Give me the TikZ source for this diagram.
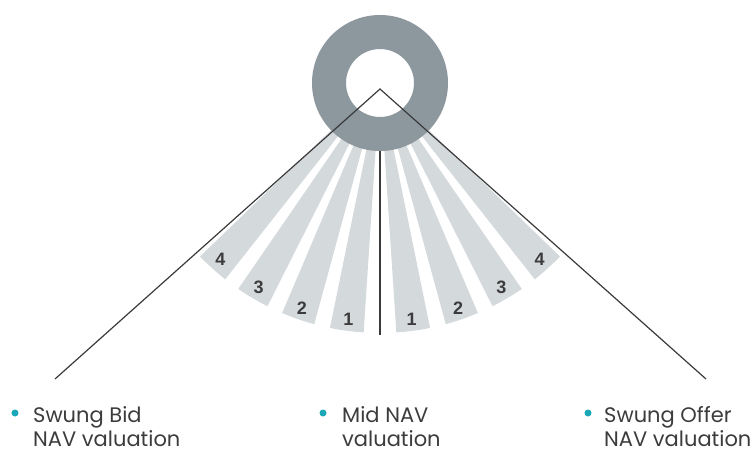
\documentclass[tikz,border=0pt]{standalone}
\usepackage{fontspec}
\setmainfont{Poppins}
\setsansfont{Liberation Sans}
\usetikzlibrary{calc}
\definecolor{ringgray}{HTML}{8C979E}
\definecolor{bladegray}{HTML}{D4D9DC}
\definecolor{linegray}{HTML}{3A3A3A}
\definecolor{textgray}{HTML}{3C3C3C}
\definecolor{dotteal}{HTML}{1AA8B8}

\begin{document}
\begin{tikzpicture}[x=1pt,y=-1pt,
  bladefill/.style={fill=bladegray},
  ringfill/.style={fill=ringgray,even odd rule},
  conn/.style={draw=linegray,line width=1.2pt},
  num/.style={inner sep=0pt,text=textgray,font=\sffamily\fontsize{18}{18}\selectfont\bfseries},
  lbl/.style={inner sep=0pt,anchor=base west,text=textgray,font=\fontsize{21}{25}\selectfont},
  dot/.style={circle,fill=dotteal,inner sep=0pt,minimum size=7pt}]
\useasboundingbox (0,0) rectangle (753,452);

\coordinate (c) at (380,83);
\coordinate (apex) at (380,89);

% fan of numbered blades, left and right of the centre line
\foreach \k/\a in {1/3.75, 2/15.25, 3/26.75, 4/38.25}{
  \pgfmathsetmacro{\la}{90+\a}
  \pgfmathsetmacro{\lb}{90+\a+7.8}
  \pgfmathsetmacro{\ra}{90-\a}
  \pgfmathsetmacro{\rb}{90-\a-7.8}
  \fill[bladefill] ($(c)+(\la:55)$) -- ($(c)+(\la:250)$)
    arc[start angle=\la, end angle=\lb, radius=250] -- ($(c)+(\lb:55)$) -- cycle;
  \fill[bladefill] ($(c)+(\ra:55)$) -- ($(c)+(\ra:250)$)
    arc[start angle=\ra, end angle=\rb, radius=250] -- ($(c)+(\rb:55)$) -- cycle;
  \node[num] (bidn\k) at ($(c)+({(\la+\lb)/2}:238)$) {\k};
  \node[num] (offn\k) at ($(c)+({(\ra+\rb)/2}:238)$) {\k};
}

% ring
\fill[ringfill] (c) circle[radius=68] (c) circle[radius=34];

% connectors
\coordinate (bidend) at (55,379);
\coordinate (offend) at (706,379);
\coordinate (midtop) at (380,151);
\coordinate (midend) at (380,335);
\draw[conn] (bidend) -- (apex) -- (offend);
\draw[conn] (midtop) -- (midend);

% captions
\node[dot] (biddot) at (15,413) {};
\node[lbl] (bid1) at (33,422) {Swung Bid};
\node[lbl] (bid2) at (33,446) {NAV valuation};
\node[dot] (middot) at (323,413) {};
\node[lbl] (mid1) at (342,422) {Mid NAV};
\node[lbl] (mid2) at (342,446) {valuation};
\node[dot] (offdot) at (588,413) {};
\node[lbl] (off1) at (604,422) {Swung Offer};
\node[lbl] (off2) at (604,446) {NAV valuation};
\end{tikzpicture}
\end{document}
